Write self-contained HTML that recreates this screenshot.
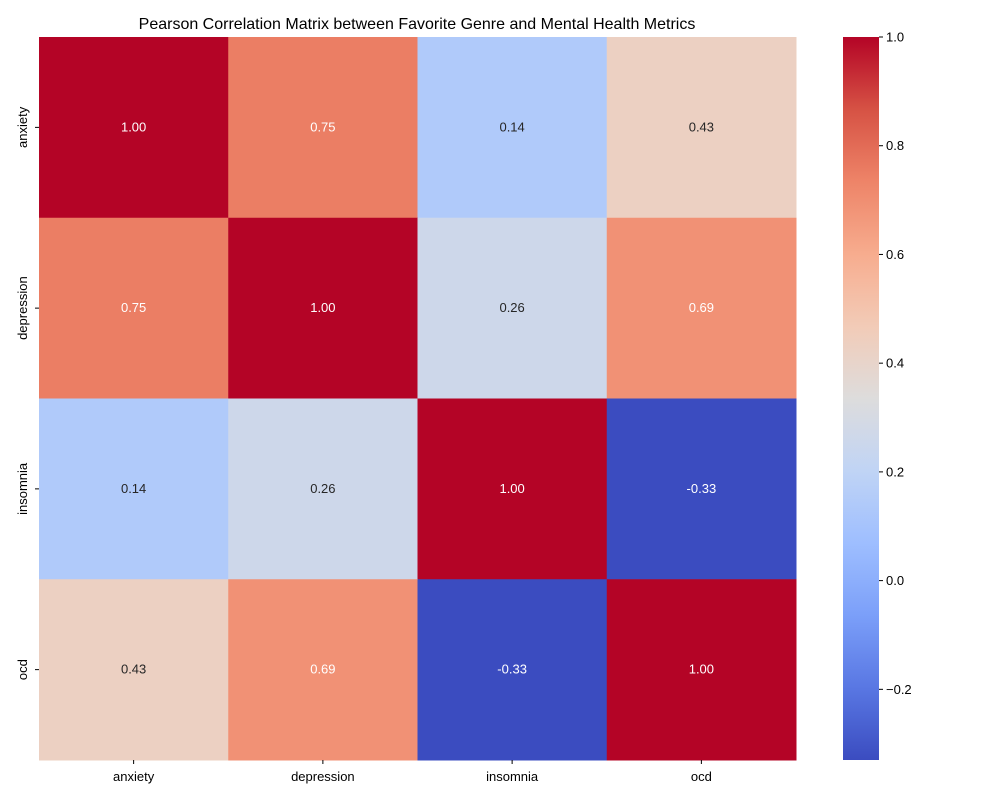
<!DOCTYPE html>
<html><head><meta charset="utf-8"><style>
body{margin:0;background:#fff;}
svg text{font-family:"Liberation Sans","DejaVu Sans",sans-serif;}
</style></head><body>
<svg id="chart" width="1000" height="800" xmlns="http://www.w3.org/2000/svg">
<defs><linearGradient id="cbgrad" x1="0" y1="1" x2="0" y2="0"></linearGradient></defs>
<text x="417" y="29" text-anchor="middle" font-size="16">Pearson Correlation Matrix between Favorite Genre and Mental Health Metrics</text>
<g id="cells"></g><g id="cb"></g>
</svg>
<script>
const categories = ["anxiety","depression","insomnia","ocd"];
const matrixValues = [
 [1.00,0.75,0.14,0.43],
 [0.75,1.00,0.26,0.69],
 [0.14,0.26,1.00,-0.33],
 [0.43,0.69,-0.33,1.00]
];
const colorbarTicks = [-0.2,0.0,0.2,0.4,0.6,0.8,1.0];
const vmin = -0.33, vmax = 1.0;

const NS="http://www.w3.org/2000/svg";
const anchors=["#3b4cc0","#5977e3","#7b9ff9","#9ebeff","#c0d4f5","#dddcdc","#f2cbb7","#f7ac8e","#ee8468","#d65244","#b40426"];
function hex(h){return [1,3,5].map(i=>parseInt(h.substr(i,2),16));}
function cmap(v){let t=(v-vmin)/(vmax-vmin);t=Math.max(0,Math.min(1,t));
 const p=t*10,i=Math.min(9,Math.floor(p)),f=p-i;const a=hex(anchors[i]),b=hex(anchors[i+1]);
 const c=a.map((x,k)=>Math.round(x+(b[k]-x)*f));return {css:`rgb(${c})`,lum:(0.299*c[0]+0.587*c[1]+0.114*c[2])};}
const X0=39,X1=796,Y0=37,Y1=760,n=categories.length;
const cw=(X1-X0)/n,ch=(Y1-Y0)/n;
const xs=i=>X0+i*cw, ys=j=>Y0+j*ch;
const svg=document.getElementById('chart'),g=document.getElementById('cells');
function el(t,a,p){const e=document.createElementNS(NS,t);for(const k in a)e.setAttribute(k,a[k]);(p||g).appendChild(e);return e;}
matrixValues.forEach((row,j)=>row.forEach((v,i)=>{
 const c=cmap(v);
 const r=el('rect',{x:xs(i),y:ys(j),width:cw+0.5,height:ch+0.5,fill:c.css});
 
 
 const t=el('text',{x:xs(i)+cw/2,y:ys(j)+ch/2+4,'text-anchor':'middle','font-size':13,fill:c.lum<185?'#fff':'#262626'});
 t.textContent=v.toFixed(2);
 
 
}));
categories.forEach((c,i)=>{
 el('line',{x1:xs(i)+cw/2,x2:xs(i)+cw/2,y1:Y1,y2:Y1+4,stroke:'#000'});
 const t=el('text',{x:xs(i)+cw/2,y:Y1+21,'text-anchor':'middle','font-size':13});
 t.textContent=c;
 
 
 const yc=ys(i)+ch/2;
 el('line',{x1:X0-4,x2:X0,y1:yc,y2:yc,stroke:'#000'});
 const u=el('text',{x:0,y:0,'text-anchor':'middle','font-size':13,transform:`translate(${X0-12},${yc}) rotate(-90)`});
 u.textContent=c;
 
 
});
const grad=document.getElementById('cbgrad');
for(let k=0;k<=20;k++){const v=vmin+(vmax-vmin)*k/20;el('stop',{offset:(k/20),'stop-color':cmap(v).css},grad);}
const cb=document.getElementById('cb');
const CBX=843,CBW=36;
const cy=v=>Y1-(v-vmin)/(vmax-vmin)*(Y1-Y0);
const bar=el('rect',{x:CBX,y:Y0,width:CBW,height:Y1-Y0,fill:'url(#cbgrad)'},cb);


colorbarTicks.forEach(v=>{
 const y=cy(v);
 el('line',{x1:CBX+CBW,x2:CBX+CBW+4,y1:y,y2:y,stroke:'#000'},cb);
 const t=el('text',{x:CBX+CBW+7,y:y+4.5,'font-size':13},cb);
 t.textContent=(v<0?'\u2212':'')+Math.abs(v).toFixed(1);
 
 
});
</script>
</body></html>
